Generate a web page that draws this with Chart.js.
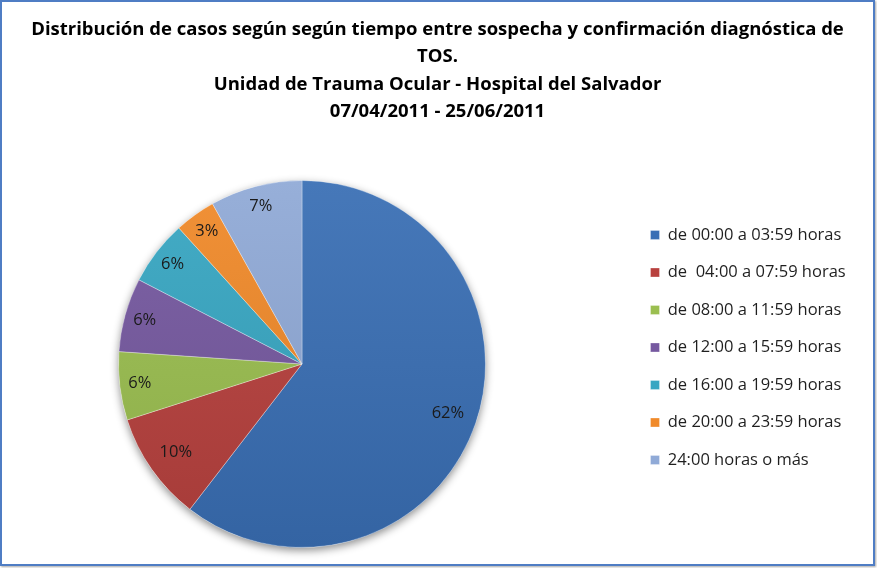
<!DOCTYPE html>
<html lang="es">
<head>
<meta charset="utf-8">
<title>Distribución de casos - TOS</title>
<script src="https://cdn.jsdelivr.net/npm/chart.js@4.4.1/dist/chart.umd.min.js"></script>
<style>
    body {
        margin: 0;
        background: #ffffff;
    }
    .marco {
        position: absolute;
        left: 0;
        top: 0;
        width: 875px;
        height: 566px;
        box-sizing: border-box;
        border: 2px solid #4f7dc4;
        box-shadow: 1px 1px 2px rgba(0, 0, 0, 0.35);
        background: #ffffff;
    }
    .chart-container {
        position: relative;
        width: 871px;
        height: 562px;
    }
</style>
</head>
<body>
<div class="marco">
    <div class="chart-container">
        <canvas id="grafico"></canvas>
    </div>
</div>

<script>
// Datos
const titulo = [
    'Distribución de casos según según tiempo entre sospecha y confirmación diagnóstica de',
    'TOS.',
    'Unidad de Trauma Ocular - Hospital del Salvador',
    '07/04/2011 - 25/06/2011'
];

const categorias = [
    'de 00:00 a 03:59 horas',
    'de  04:00 a 07:59 horas',
    'de 08:00 a 11:59 horas',
    'de 12:00 a 15:59 horas',
    'de 16:00 a 19:59 horas',
    'de 20:00 a 23:59 horas',
    '24:00 horas o más'
];

// tamano de cada sector (%), medido sobre el dibujo
const sectores = [60.4, 9.6, 6.0, 6.5, 5.7, 3.6, 8.1];

// etiquetas tal como aparecen impresas sobre el grafico
const etiquetas = ['62%', '10%', '6%', '6%', '6%', '3%', '7%'];

const colores = ['#3a6fb5', '#b8413e', '#9bbf50', '#7659a0', '#38a7c2', '#f08a2a', '#90aad7'];

const fuente = "'Open Sans'";

// Aclara u oscurece un color hex
function tono(hex, f) {
    const n = parseInt(hex.slice(1), 16);
    const c = [n >> 16, (n >> 8) & 255, n & 255].map(v => {
        const r = f > 0 ? v + (255 - v) * f : v * (1 + f);
        return Math.round(r);
    });
    return 'rgb(' + c.join(',') + ')';
}

// Degradado vertical suave, como el relleno de Excel
function relleno(context) {
    const i = context.dataIndex;
    const area = context.chart.chartArea;
    if (!area || context.type !== 'data') return colores[i];
    const g = context.chart.ctx.createLinearGradient(0, area.top, 0, area.bottom);
    g.addColorStop(0, tono(colores[i], 0.06));
    g.addColorStop(1, tono(colores[i], -0.1));
    return g;
}

// Cajas vacias para ubicar la torta y la leyenda como en el original
function espaciador(posicion, peso, ancho) {
    return {
        position: posicion,
        weight: peso,
        fullSize: false,
        options: {},
        isHorizontal() { return false; },
        update(maxWidth, maxHeight) {
            this.width = typeof ancho === 'function' ? ancho() : ancho;
            this.height = maxHeight;
        },
        draw() {}
    };
}

const espaciosPlugin = {
    id: 'espacios',
    beforeInit(chart) {
        Chart.layouts.addBox(chart, espaciador('left', 0, 116));
        Chart.layouts.addBox(chart, espaciador('right', 500, 143.5));
        // lo que sobra a la derecha de la leyenda
        Chart.layouts.addBox(chart, espaciador('right', 1500, () => {
            const ancho = chart.legend ? chart.legend.width : 0;
            return Math.max(0, 243.5 - ancho);
        }));
    }
};

// Sombra suave bajo la torta
const sombraPlugin = {
    id: 'sombra',
    beforeDatasetsDraw(chart) {
        const arc = chart.getDatasetMeta(0).data[0];
        if (!arc) return;
        const p = arc.getProps(['x', 'y', 'outerRadius'], true);
        const ctx = chart.ctx;
        ctx.save();
        ctx.shadowColor = 'rgba(0, 0, 0, 0.45)';
        ctx.shadowBlur = 8;
        ctx.shadowOffsetY = 3;
        ctx.fillStyle = '#ffffff';
        ctx.beginPath();
        ctx.arc(p.x, p.y, p.outerRadius, 0, Math.PI * 2);
        ctx.fill();
        ctx.restore();
    }
};

// Porcentajes dentro de cada sector
const etiquetasPlugin = {
    id: 'etiquetas',
    afterDatasetsDraw(chart) {
        const ctx = chart.ctx;
        const meta = chart.getDatasetMeta(0);
        const total = sectores.reduce((a, b) => a + b, 0);
        ctx.save();
        ctx.font = '16.5px ' + fuente;
        ctx.fillStyle = '#1a1a1a';
        ctx.textAlign = 'center';
        ctx.textBaseline = 'middle';
        meta.data.forEach((arc, i) => {
            const p = arc.getProps(['x', 'y', 'startAngle', 'endAngle', 'outerRadius'], true);
            const mid = (p.startAngle + p.endAngle) / 2;
            const share = sectores[i] / total;
            const d = p.outerRadius * (share < 0.09 ? 0.89 : 0.84);
            ctx.fillText(etiquetas[i], p.x + Math.cos(mid) * d, p.y + Math.sin(mid) * d);
        });
        ctx.restore();
    }
};

const ctx = document.getElementById('grafico').getContext('2d');

new Chart(ctx, {
    type: 'pie',
    data: {
        labels: categorias,
        datasets: [{
            data: sectores,
            backgroundColor: relleno,
            borderColor: 'rgba(255, 255, 255, 0.3)',
            borderWidth: 1
        }]
    },
    options: {
        responsive: true,
        maintainAspectRatio: false,
        animation: false,
        layout: {
            padding: { left: 0, right: 0, top: 0, bottom: 16 }
        },
        plugins: {
            title: {
                display: true,
                text: titulo,
                color: '#000000',
                font: { family: fuente, size: 18.5, weight: 'bold', lineHeight: 1.47 },
                padding: { top: 14.4, bottom: 54.8 }
            },
            legend: {
                display: true,
                position: 'right',
                align: 'start',
                fullSize: false,
                maxWidth: 243.5,
                title: {
                    display: true,
                    text: ' ',
                    font: { size: 10, lineHeight: 1 },
                    padding: { top: 15.75, bottom: 0 }
                },
                labels: {
                    color: '#1f1f1f',
                    boxWidth: 9,
                    boxHeight: 9,
                    padding: 21,
                    font: { family: fuente, size: 16.5 },
                    generateLabels(chart) {
                        const items = Chart.overrides.pie.plugins.legend.labels.generateLabels(chart);
                        items.forEach((item, i) => { item.fillStyle = colores[i]; });
                        return items;
                    }
                }
            },
            tooltip: { enabled: false }
        }
    },
    plugins: [espaciosPlugin, sombraPlugin, etiquetasPlugin]
});
</script>
</body>
</html>
